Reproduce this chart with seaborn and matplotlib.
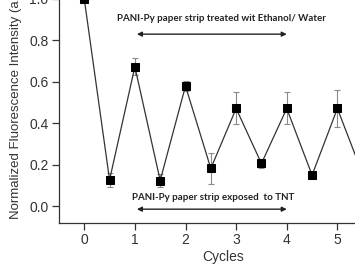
import numpy as np
import pandas as pd
import matplotlib
matplotlib.use("Agg")
import matplotlib.pyplot as plt
import seaborn as sns

# dati
cicli = [0, 0.5, 1, 1.5, 2, 2.5, 3, 3.5, 4, 4.5, 5, 5.5]
intensita = [1.0, 0.128, 0.673, 0.125, 0.58, 0.183, 0.472, 0.207, 0.472, 0.151, 0.472, 0.155]
errori = [0.01, 0.032, 0.04, 0.03, 0.025, 0.073, 0.077, 0.02, 0.077, 0.015, 0.09, 0.02]
yticks = [0.0, 0.2, 0.4, 0.6, 0.8, 1.0]
xticks = [0, 1, 2, 3, 4, 5]

df = pd.DataFrame({"ciclo": cicli, "intensita": intensita, "err": errori})

sns.set_style("ticks")
plt.rcParams["font.family"] = ["Liberation Sans", "DejaVu Sans"]

fig = plt.figure(figsize=(3.55, 2.64), dpi=100)
ax = fig.add_axes([0.166, 0.155, 0.927, 0.928])

ax.errorbar(df["ciclo"], df["intensita"], yerr=df["err"], fmt="none",
            ecolor="#8a8a8a", elinewidth=0.8, capsize=2.5, capthick=0.8, zorder=1)
sns.lineplot(data=df, x="ciclo", y="intensita", ax=ax, color="#333333",
             linewidth=0.9, marker="s", markersize=5.8, markerfacecolor="black",
             markeredgecolor="black", zorder=3)

ax.set_xlim(-0.5, 6.0)
ax.set_ylim(-0.08, 1.1)
ax.set_xticks(xticks)
ax.set_yticks(yticks)
ax.set_yticklabels([f"{v:.1f}" for v in yticks])
ax.tick_params(axis="both", labelsize=10, labelcolor="#333333", color="#333333",
               length=5, width=0.9, direction="out", pad=2.5)
ax.set_xlabel("Cycles", fontsize=10, color="#333333", labelpad=2)
ax.set_ylabel("Normalized Fluorescence Intensity (a.u.)", fontsize=9.5,
              color="#333333", labelpad=5)
for s in ["top", "right"]:
    ax.spines[s].set_visible(False)
for s in ["left", "bottom"]:
    ax.spines[s].set_color("#333333")
    ax.spines[s].set_linewidth(0.9)

# annotazioni con frecce
ax.text(2.71, 0.905, "PANI-Py paper strip treated wit Ethanol/ Water",
        ha="center", va="center", fontsize=7, fontweight="bold",
        family=["Lato", "DejaVu Sans"], color="#222222")
ax.annotate("", xy=(4.0, 0.83), xytext=(1.04, 0.83),
            arrowprops=dict(arrowstyle="<|-|>", color="#222222", lw=1.0,
                            mutation_scale=7, shrinkA=0, shrinkB=0))
ax.text(2.54, 0.045, "PANI-Py paper strip exposed  to TNT",
        ha="center", va="center", fontsize=7, fontweight="bold",
        family=["Lato", "DejaVu Sans"], color="#222222")
ax.annotate("", xy=(4.0, -0.013), xytext=(1.04, -0.013),
            arrowprops=dict(arrowstyle="<|-|>", color="#222222", lw=1.0,
                            mutation_scale=7, shrinkA=0, shrinkB=0))

fig.savefig("out.png", dpi=100)
